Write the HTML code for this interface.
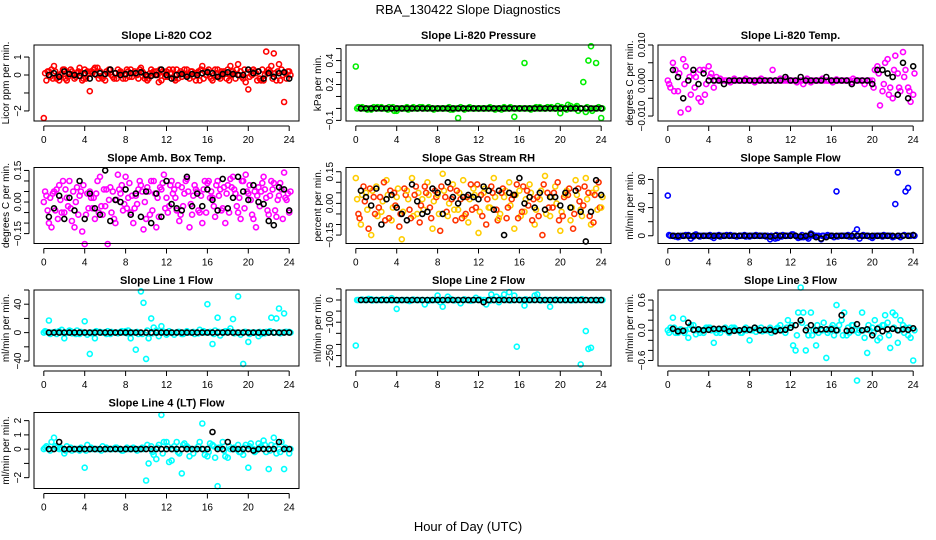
<!DOCTYPE html>
<html><head><meta charset="utf-8"><style>
body{margin:0;background:#fff}
svg{display:block;font-family:"Liberation Sans",sans-serif}
</style></head><body>
<svg id="c" width="936" height="540" viewBox="0 0 936 540">
<text x="468" y="14" text-anchor="middle" font-size="13">RBA_130422  Slope Diagnostics</text>
<text x="468" y="531" text-anchor="middle" font-size="13">Hour of Day (UTC)</text>
</svg>
<script>
const xTicks=[0,4,8,12,16,20,24];
const xTickLabels=["0","4","8","12","16","20","24"];
const co2A=[-2.4,0.2,0.5,-0.3,0.3,0.1,-0.2,0.4,0.3,-0.9,0.4,0.2,-0.3,0.3,0.1,0.2,-0.2,0.3,0.1,0.4,-0.1,0.3,0.2,-0.3,0.2,0.1,0.3,-0.1,0.3,0.2,0.1,0.5,0.2,-0.3,0.3,0.1,0.3,0.2,0.6,-0.2,-0.8,0.3,0.2,-0.3,0.3,1.2,0.6,-1.5,0.2];
const co2B=[-0.3,0.3,-0.2,0.1,-0.3,0.2,0.1,-0.3,0.2,0.1,0.4,-0.2,0.1,-0.1,0.3,-0.2,0.2,0.1,-0.2,0.1,-0.2,0.2,-0.4,0.1,0.3,-0.2,0.1,0.3,-0.2,0.1,-0.3,0.2,-0.1,0.3,-0.2,0.1,0.5,-0.2,0.2,-0.4,0.2,0.1,-0.3,1.3,0.5,-0.3,0.3,-0.2];
const co2C=[0.1,-0.1,0.2,0,-0.2,0.3,-0.1,0.1,-0.2,0.2,0,-0.1,0.2,0,-0.2,0.1,0.3,-0.1,0,0.2,-0.3,0.1,0,0.2,-0.1,0.3,-0.2,0.1,0,-0.1,0.2,-0.2,0.3,0,-0.1,0.2,-0.3,0.1,0,0.3,-0.1,0.2,-0.2,0,0.2,0.1,-0.3,0.1,0];
const co2D=[0.2,-0.2,0,0.3,-0.1,0,0.2,-0.2,0.1,0.3,-0.2,0,0.3,-0.2,0.1,0,-0.1,0.2,0.3,-0.2,0.1,0,0.3,-0.1,0.1,-0.3,0.2,0,0.2,-0.3,0.3,0,-0.2,0.1,0.2,-0.2,0,0.3,-0.1,0.1,0,-0.3,0.3,0.1,-0.2,0.2,0,0.2];
const co2K=[null,0,0.1,-0.1,0.2,0.05,0,-0.05,0.1,-0.2,0.05,0.1,0.05,0.3,0.1,0,0.05,0.1,0.1,0.15,0,-0.05,0,0.3,0,-0.2,0,0.05,-0.1,0.05,0,0.1,0.15,0.1,-0.1,0.05,0.15,0.05,0,0,0.3,0.1,0.2,-0.2,0.1,-0.1,0.1,0.15,-0.2];
const prA=[0.35,0,0,-0.01,0,0.01,0,0,-0.02,0,0.01,0,0,0.01,0,0,0,0,0,-0.01,-0.08,0,0,0,0,0,0,0,0,0.01,0,-0.07,0,0.38,0,0,0.01,0,0,0,-0.04,0,0.02,0.01,0,-0.03,0.52,0.38,-0.08];
const prB=[0.01,0,0,0.01,0,0,0.01,-0.02,0,0,0,0,0.01,0,0,0,0,0,-0.01,0,0.01,0,0,0,0,0,0,0,-0.01,0,0,0,0,0,0,0,0,0.01,0,0.02,0,0.03,0,-0.02,0.22,0.4,0,0.01];
const prC=[0,0.01,-0.01,0,0.01,0,-0.01,0.01,0,0,-0.01,0.01,0,0,0.01,-0.01,0,0,0.01,0,0,-0.01,0.01,0,0,0,0.01,-0.01,0,0,0.01,0,0,0,-0.01,0.01,0,0,0.01,0,0.01,-0.01,0,0.02,0,0.01,-0.02,0,0];
const prK=[null,0,0,0,0,0,0,0,0,0,0,0,0,0,0,0,0,0,0,0,0,0,0,0,0,0,0,0,0,0,0,0,0,0,0,0,0,0,0,0,0,0,0,0,0,0,0,0,0];
const tA=[0,5,-3,6,-8,2,-5,3,4,-2,0,0,0,0.5,0,0,0,-0.5,0,0,0,0,0.5,0,0,0,0,0,-0.5,0,0,0,0,0.3,0,0,-0.5,0,0,0,0,4,-3,6,-5,2,8,-2,-4];
const tB=[-2,3,-9,4,-4,1,-6,-1,2,1,0,0,0,0,0,0,0,0,0,0,3,0,0,0,0,0,-1,0,0,0,0,0,0,0,0,0,0,0,-1,0,3,-7,5,-2,7,-3,3,-6];
const tC=[-1,-3,2,-1,1,-2,3,-4,1,0,0.5,0,-0.5,0,0,0.5,0,0,0.5,0,0,0,0,0.5,0,-0.5,0,0.5,0,0,0.5,0,-0.5,0,0,0,0.5,0,0,0,-2,2,-1,-4,3,-2,1,-3,2];
const tK=[null,3,1,-5,0,3,-1,2,0,0,0,-1,0,0,0,0,0,0,0,0,0,0,0,1,0,0,1,0,0,0,0,1,0,0,0,0,-1,0,0,0,-1,3,3,2,1,-4,5,-5,4];
const bA=[0,-0.1,0.05,0.08,-0.05,0.1,-0.12,0.03,-0.2,0.05,-0.08,0.12,-0.02,0.07,-0.1,0.04,0.12,-0.05,0.03,0.08,-0.08,0.1,-0.12,0.06,0.02,0.1,-0.04,0.07,0.11,-0.06,0.05,-0.1,0.09,0.02,0.1,-0.03,0.08,0.12,-0.05,0.1,0.04,-0.08,0.07,0.12,-0.06,0.09,0.03,0.14,-0.05];
const bB=[0.03,-0.12,0.06,-0.05,0.02,-0.09,0.07,-0.14,0.04,-0.03,0.1,-0.06,-0.2,0.05,0.13,-0.04,0.02,-0.1,0.06,-0.13,0.05,0.1,-0.07,0.13,-0.02,0.06,-0.09,0.04,-0.12,0.08,-0.05,0.1,0.02,-0.07,0.06,-0.1,0.11,0.04,-0.08,0.13,0.01,-0.12,0.05,0.02,0.1,-0.07,0.06,0.01];
const bC=[0.05,0.02,-0.04,0.01,0.06,-0.03,0,0.05,-0.06,0.02,0.04,-0.02,0.06,-0.05,0.01,0.08,-0.03,0.03,-0.01,0.05,0.07,-0.04,0.02,0.09,-0.05,0.04,0.08,-0.02,0.05,0.03,-0.04,0.06,0.1,-0.02,0.03,0.07,-0.05,0.06,0.02,-0.03,0.08,0.05,-0.02,0.06,0.03,-0.04,0.09,0.02,0.05];
const bD=[-0.04,0.04,-0.08,0.1,-0.02,0.05,-0.06,0.08,-0.03,0.02,-0.05,0.06,0.01,-0.08,0.06,-0.01,0.09,-0.03,0.1,0,-0.06,0.04,0.07,-0.03,0.08,0.02,-0.06,0.1,-0.01,0.06,0.03,-0.05,0.05,0.08,-0.04,0.04,0.07,-0.02,0.1,0.05,-0.06,0.03,0.09,-0.04,0.06,0.01,-0.08,0.04];
const bK=[null,-0.07,-0.03,0.03,-0.08,0.02,-0.04,0.1,-0.08,0.04,-0.03,-0.06,0.15,-0.09,0.01,0,0.06,-0.06,0.04,-0.07,0.05,-0.1,0.04,-0.07,0.1,-0.01,-0.03,-0.04,0.12,-0.02,0.04,-0.02,0.06,0.01,-0.04,0.11,-0.03,0.02,0.12,0.05,0.01,0.08,0,-0.01,-0.09,-0.11,0.07,0.06,-0.04];
const rhA=[0.12,-0.1,0.05,-0.15,0.08,-0.04,0.11,-0.08,0.03,-0.17,0.06,0.12,-0.05,0.02,0.1,-0.12,0.04,0.14,-0.06,0.09,-0.03,0.11,-0.09,0.07,-0.14,0.05,-0.02,0.12,-0.07,0.03,0.1,-0.12,0.06,-0.04,0.09,-0.1,0.02,0.13,-0.06,0.08,-0.13,0.04,-0.08,0.11,-0.03,0.12,-0.1,0.07,-0.02];
const rhB=[-0.05,0.08,-0.12,0.03,-0.02,0.1,-0.07,0.05,-0.11,0.07,-0.03,0.04,-0.09,0.08,-0.02,0.06,-0.13,0.03,0.07,-0.08,0.02,-0.05,0.09,-0.02,0.04,-0.1,0.08,-0.03,0.05,-0.07,0.02,0.09,-0.04,0.06,-0.08,0.03,-0.15,0.05,-0.02,0.1,-0.06,0.04,-0.12,0.07,-0.01,0.05,-0.09,0.1];
const rhC=[0.02,0.04,-0.03,0.06,-0.06,0.01,0.04,-0.02,0.07,-0.04,0.02,-0.06,0.05,-0.03,0.04,0.01,-0.05,0.06,0,-0.03,0.05,-0.06,0.02,0.04,-0.04,0.07,-0.02,0.03,-0.05,0.06,-0.01,0.04,-0.06,0.02,0.05,-0.03,0.06,-0.05,0.03,0,-0.04,0.06,-0.02,0.04,-0.06,0.02,0.05,-0.03,0.03];
const rhD=[-0.07,0.01,0.07,-0.05,0.03,-0.08,0.06,-0.01,-0.05,0.04,-0.07,0.08,-0.01,0.05,-0.07,0.03,0.08,-0.04,0.02,0.06,-0.07,0.03,-0.03,0.09,-0.06,0.02,0.05,-0.08,0.07,-0.02,0.04,-0.07,0.08,-0.01,0.02,-0.06,0.09,-0.02,0.05,-0.08,0.03,0.07,-0.05,0.01,0.08,-0.06,0.04,-0.02];
const rhK=[null,0.06,0.03,-0.01,0.07,-0.1,0.02,0.04,-0.02,-0.05,-0.08,0.09,0.01,-0.05,-0.04,0.07,0.05,-0.05,0.1,0.03,0,0.03,0.04,0.03,0.02,0.08,0.06,-0.03,0.06,-0.15,0.05,0.04,0.12,0,0.03,-0.02,0.05,-0.03,0.03,0.03,-0.01,0.05,-0.02,0.06,-0.04,-0.18,-0.04,0.11,0.04];
const sfA=[57,0,-2,0,1,-1,0,0,0,-3,1,0,0,0,0,1,-1,0,0,0,-5,-4,0,0,0,0,-2,-1,3,0,-5,-1,0,63,0,0,-1,9,0,0,-3,0,-1,0,-2,90,0,68,1];
const sfB=[0,-1,0,1,-4,2,0,0,-1,0,0,1,0,-1,0,0,0,0,0,0,-2,-3,1,0,2,-3,-2,-4,0,0,0,0,-2,0,0,-1,3,-4,0,-1,0,0,0,0,45,-2,63,0];
const sfC=[1,0,-1,0,0,1,-1,0,1,0,-1,0,1,0,0,-1,0,1,0,-1,0,1,-1,0,2,-1,1,-2,2,-1,0,1,0,-1,0,1,-1,0,1,0,-1,0,1,0,-1,0,1,0,0];
const sfK=[null,0,0,0,0,0,0,0,0,0,0,0,0,0,0,0,0,0,0,0,-1,0,0,0,0,0,-1,0,2,-2,-4,-2,0,0,0,0,0,0,0,0,0,0,0,0,0,0,0,0,1];
const l1A=[0,17,0,2,-8,3,0,-2,16,-30,-8,1,0,-2,0,1,2,-8,-24,58,-37,20,3,9,-3,0,0,-2,2,0,0,1,40,-16,21,0,2,19,51,-44,-13,0,-5,0,0,0,34,27,1];
const l1B=[1,0,-2,4,0,-1,3,0,-3,0,1,0,2,0,-1,0,3,0,-2,42,-8,7,-5,0,2,-3,1,0,0,-2,4,0,1,3,-4,2,6,0,-3,1,0,0,-2,1,21,20,0,1];
const l1C=[2,-2,1,0,-1,2,-2,1,0,-1,2,0,-2,1,0,2,-1,0,1,-2,3,-1,0,2,-1,0,1,-2,0,1,-1,2,0,-2,1,0,2,-1,0,1,-2,0,1,-1,2,0,-1,1,0];
const l1K=[null,0,0,0,0,0,0,0,0,0,0,0,0,0,0,0,0,0,0,0,0,0,0,0,0,0,0,0,0,0,0,0,0,0,0,0,0,0,0,0,0,0,0,0,0,0,0,0,0];
const l2A=[-205,0,0,3,0,0,0,8,-40,0,0,0,0,0,0,0,20,-30,15,0,0,0,0,0,0,0,0,0,-10,25,35,20,0,-25,0,20,0,0,-30,0,0,0,0,0,-290,-140,-215,0,0];
const l2B=[0,0,5,0,0,0,0,0,0,0,-5,0,0,-20,0,0,-10,0,5,0,-15,0,-3,10,0,-20,25,15,5,0,0,-210,0,0,0,25,0,0,0,0,0,0,0,0,0,-220,0,0];
const l2C=[0,2,0,-2,0,3,0,0,-2,0,0,2,0,0,-3,0,2,0,0,-2,0,3,0,0,2,0,-3,0,5,0,-2,0,0,3,0,0,-2,0,0,2,0,0,-2,0,3,0,0,-2,0];
const l2K=[null,0,0,0,0,0,0,0,0,0,0,0,0,0,0,0,0,0,0,0,0,0,0,0,0,-10,0,0,0,0,0,0,0,0,0,0,0,0,0,0,0,0,0,0,0,0,0,0,0];
const l3A=[0,0.25,-0.05,0.23,-0.15,0.1,0,-0.05,0.05,-0.25,0,0.03,-0.05,0.05,0,0,-0.2,0.05,0,0,0.05,0,0.1,-0.05,0.05,-0.4,0.85,-0.4,0.35,-0.3,0,-0.55,0.05,0.5,0.2,-0.1,0.1,-1.0,0.35,-0.45,0.05,-0.2,0.1,0.15,0.35,-0.25,0.1,-0.1,-0.6];
const l3B=[0.05,-0.05,0.02,0,0.1,-0.08,0,0.05,0,-0.05,0.02,0,0.05,0,-0.05,0,0,0.03,-0.02,0,0,0.05,0,0.2,-0.3,0.35,0.35,-0.1,0,-0.05,0.15,0,-0.1,0.1,0.35,-0.05,0,0,-0.15,0,0.2,-0.15,0.3,-0.35,0.3,0.2,0.05,-0.15];
const l3C=[-0.05,0.05,0,-0.05,0.03,0,-0.05,0.02,0.05,0,-0.05,0.05,0,0.02,-0.05,0.05,0,-0.03,0.05,0,-0.05,0.03,0,0.05,0.1,-0.1,0.15,0.05,-0.1,0.1,0,-0.05,0.1,0,-0.1,0.05,0.1,-0.05,0,0.1,-0.05,0.05,0.1,-0.1,0.05,0,-0.05,0.05,0];
const l3K=[null,0.03,-0.02,-0.01,0.15,0.01,0.02,0,0.01,0.03,0.03,0.03,-0.02,-0.01,0,0.02,0.01,0.05,0,0.01,0.01,-0.02,0,0.01,0.05,0.1,0.2,0,0.1,0,0.02,0.02,0.02,0,0.3,-0.01,0,0.12,0,0.02,-0.1,0.03,-0.02,0.02,0.03,0,0.02,0.01,0.04];
const l4A=[0,0,0.8,0,-0.3,0,0,-0.1,-1.3,0,0,0,0,0,0.1,0,0,0,0,0,-2.2,0.2,-0.7,2.4,0.5,-0.8,0.5,-1.7,0.2,0,0,1.8,-0.5,0.3,-2.6,0.5,-0.6,0,0.3,-0.4,-1.3,0,0.4,0.6,-1.4,0.8,0,-1.4,-0.3];
const l4B=[0.2,0.5,0.1,0,0.2,-0.1,0,0,0.3,0,0,0.2,0,0,0,-0.1,0,0.1,0,0,-1.0,-0.4,0.3,0.5,-0.9,0.2,-0.3,0.4,-0.5,0,0.5,-0.4,0.4,-0.6,0.1,-0.5,0,0,-0.2,0.3,0.4,-0.1,0.2,-0.2,0.3,-0.3,0.5,0];
const l4C=[0.1,-0.1,0.2,0.1,-0.1,0.1,0,0.1,-0.1,0.1,0,-0.1,0.1,0,0.1,-0.1,0.1,0,-0.1,0.1,0.3,-0.2,0.1,-0.3,0.2,0,-0.2,0.3,0.1,-0.3,0.2,0,-0.2,0.2,0.1,-0.1,0.2,0.1,-0.2,0.1,0.2,-0.2,0.1,0.3,-0.1,0.2,-0.2,0.1,0];
const l4K=[null,0,0,0.5,0,0,0,0,0,0,0,0,0,0,0,0,0,0,0,0,0,0,0,0,0,0,0,0,0,0,0,0,0,1.2,0,0,0.5,0,0,0,0,-0.1,0,0,0,0,0.5,0,0];

const panels=[
 {name:"co2",title:"Slope Li-820 CO2",yl:"Licor ppm per min.",c:"#ff0000",c2:"#ff0000",A:co2A,B:co2B,C:co2C,D:co2D,K:co2K,y0:-2.56,y1:1.67,t:[-2,-1,0,1],tl:["\u22122","","0","1"]},
 {name:"pressure",title:"Slope Li-820 Pressure",yl:"kPa per min.",c:"#00ee00",c2:"#00ee00",A:prA,B:prB,C:prC,D:null,K:prK,y0:-0.105,y1:0.53,t:[-0.1,0,0.1,0.2,0.3,0.4,0.5],tl:["\u22120.1","","","0.2","","0.4",""]},
 {name:"temp",title:"Slope Li-820 Temp.",yl:"degrees C per min.",c:"#ff00ff",c2:"#ff00ff",A:tA,B:tB,C:tC,D:null,K:tK,y0:-11.4,y1:10,t:[-10,-5,0,5,10],tl:["\u22120.010","","0.000","","0.010"]},
 {name:"ambbox",title:"Slope Amb. Box Temp.",yl:"degrees C per min.",c:"#ff00ff",c2:"#ff00ff",A:bA,B:bB,C:bC,D:bD,K:bK,y0:-0.197,y1:0.164,t:[-0.15,-0.1,-0.05,0,0.05,0.1,0.15],tl:["\u22120.15","","","0.00","","","0.15"]},
 {name:"rh",title:"Slope Gas Stream RH",yl:"percent per min.",c:"#ffcc00",c2:"#ff3300",A:rhA,B:rhB,C:rhC,D:rhD,K:rhK,y0:-0.19,y1:0.17,t:[-0.15,-0.1,-0.05,0,0.05,0.1,0.15],tl:["\u22120.15","","","0.00","","","0.15"]},
 {name:"sample",title:"Slope Sample Flow",yl:"ml/min per min.",c:"#0000ff",c2:"#0000ff",A:sfA,B:sfB,C:sfC,D:null,K:sfK,y0:-11,y1:97,t:[0,20,40,60,80],tl:["0","","40","","80"]},
 {name:"line1",title:"Slope Line 1 Flow",yl:"ml/min per min.",c:"#00ffff",c2:"#00ffff",A:l1A,B:l1B,C:l1C,D:null,K:l1K,y0:-47,y1:60,t:[-40,-20,0,20,40,60],tl:["\u221240","","0","","40",""]},
 {name:"line2",title:"Slope Line 2 Flow",yl:"ml/min per min.",c:"#00ffff",c2:"#00ffff",A:l2A,B:l2B,C:l2C,D:null,K:l2K,y0:-297,y1:45,t:[-300,-250,-200,-150,-100,-50,0,50],tl:["","\u2212250","","","\u2212100","","0",""]},
 {name:"line3",title:"Slope Line 3 Flow",yl:"ml/min per min.",c:"#00ffff",c2:"#00ffff",A:l3A,B:l3B,C:l3C,D:null,K:l3K,y0:-0.71,y1:0.8,t:[-0.6,-0.4,-0.2,0,0.2,0.4,0.6],tl:["\u22120.6","","","0.0","","","0.6"]},
 {name:"line4",title:"Slope Line 4 (LT) Flow",yl:"ml/min per min.",c:"#00ffff",c2:"#00ffff",A:l4A,B:l4B,C:l4C,D:null,K:l4K,y0:-2.76,y1:2.57,t:[-2,-1,0,1,2],tl:["\u22122","","0","1","2"]}
];
const NS="http://www.w3.org/2000/svg";
const svg=document.getElementById('c');
function mk(tag,attrs,parent){const e=document.createElementNS(NS,tag);for(const k in attrs)e.setAttribute(k,attrs[k]);(parent||svg).appendChild(e);return e;}
panels.forEach((p,i)=>{
  const col=i%3,row=Math.floor(i/3);
  const L=312*col+34,R=312*col+299,T=45+122.5*row,B=T+76;
  const g=mk('g',{});
  
  
  const xs=v=>L+(v+0.96)/25.92*(R-L);
  const ys=v=>B-(v-p.y0)/(p.y1-p.y0)*(B-T);
  const plot=(arr,x0,color,nm)=>{if(!arr)return;arr.forEach((v,j)=>{if(v===null)return;const c=mk('circle',{cx:xs(x0+j*0.5).toFixed(1),cy:ys(v).toFixed(1),r:2.5,fill:'none',stroke:color,'stroke-width':1.6},g);
    
    });};
  plot(p.C,0.125,p.c,p.name+'-series-c');
  plot(p.D,0.375,p.c2,p.name+'-series-d');
  plot(p.A,0,p.c,p.name+'-series-a');
  plot(p.B,0.25,p.c2,p.name+'-series-b');
  plot(p.K,0,'#000',p.name+'-mean');
  const box=mk('rect',{x:L,y:T,width:R-L,height:B-T,fill:'none',stroke:'#000','stroke-width':1},g);
  
  
  const tt=mk('text',{x:(L+R)/2,y:T-6,'text-anchor':'middle','font-size':11,'font-weight':'bold'},g);tt.textContent=p.title;
  
  
  mk('line',{x1:xs(0),x2:xs(24),y1:B+5,y2:B+5,stroke:'#000'},g);
  xTicks.forEach((t,j)=>{mk('line',{x1:xs(t),x2:xs(t),y1:B+5,y2:B+10,stroke:'#000'},g);
    const tx=mk('text',{x:xs(t),y:B+22,'text-anchor':'middle','font-size':10},g);tx.textContent=xTickLabels[j];
    
    });
  mk('line',{x1:L-5,x2:L-5,y1:ys(p.t[0]),y2:ys(p.t[p.t.length-1]),stroke:'#000'},g);
  p.t.forEach((t,j)=>{mk('line',{x1:L-10,x2:L-5,y1:ys(t),y2:ys(t),stroke:'#000'},g);
    if(p.tl[j]){const X=L-13,Y=ys(t);const tx=mk('text',{x:X,y:Y,'text-anchor':'middle','font-size':10,transform:`rotate(-90 ${X} ${Y})`},g);tx.textContent=p.tl[j];
    
    }});
  const X=L-25,Y=(T+B)/2;
  const yl=mk('text',{x:X,y:Y,'text-anchor':'middle','font-size':10,transform:`rotate(-90 ${X} ${Y})`},g);yl.textContent=p.yl;
  
  
});
</script>
</body></html>
